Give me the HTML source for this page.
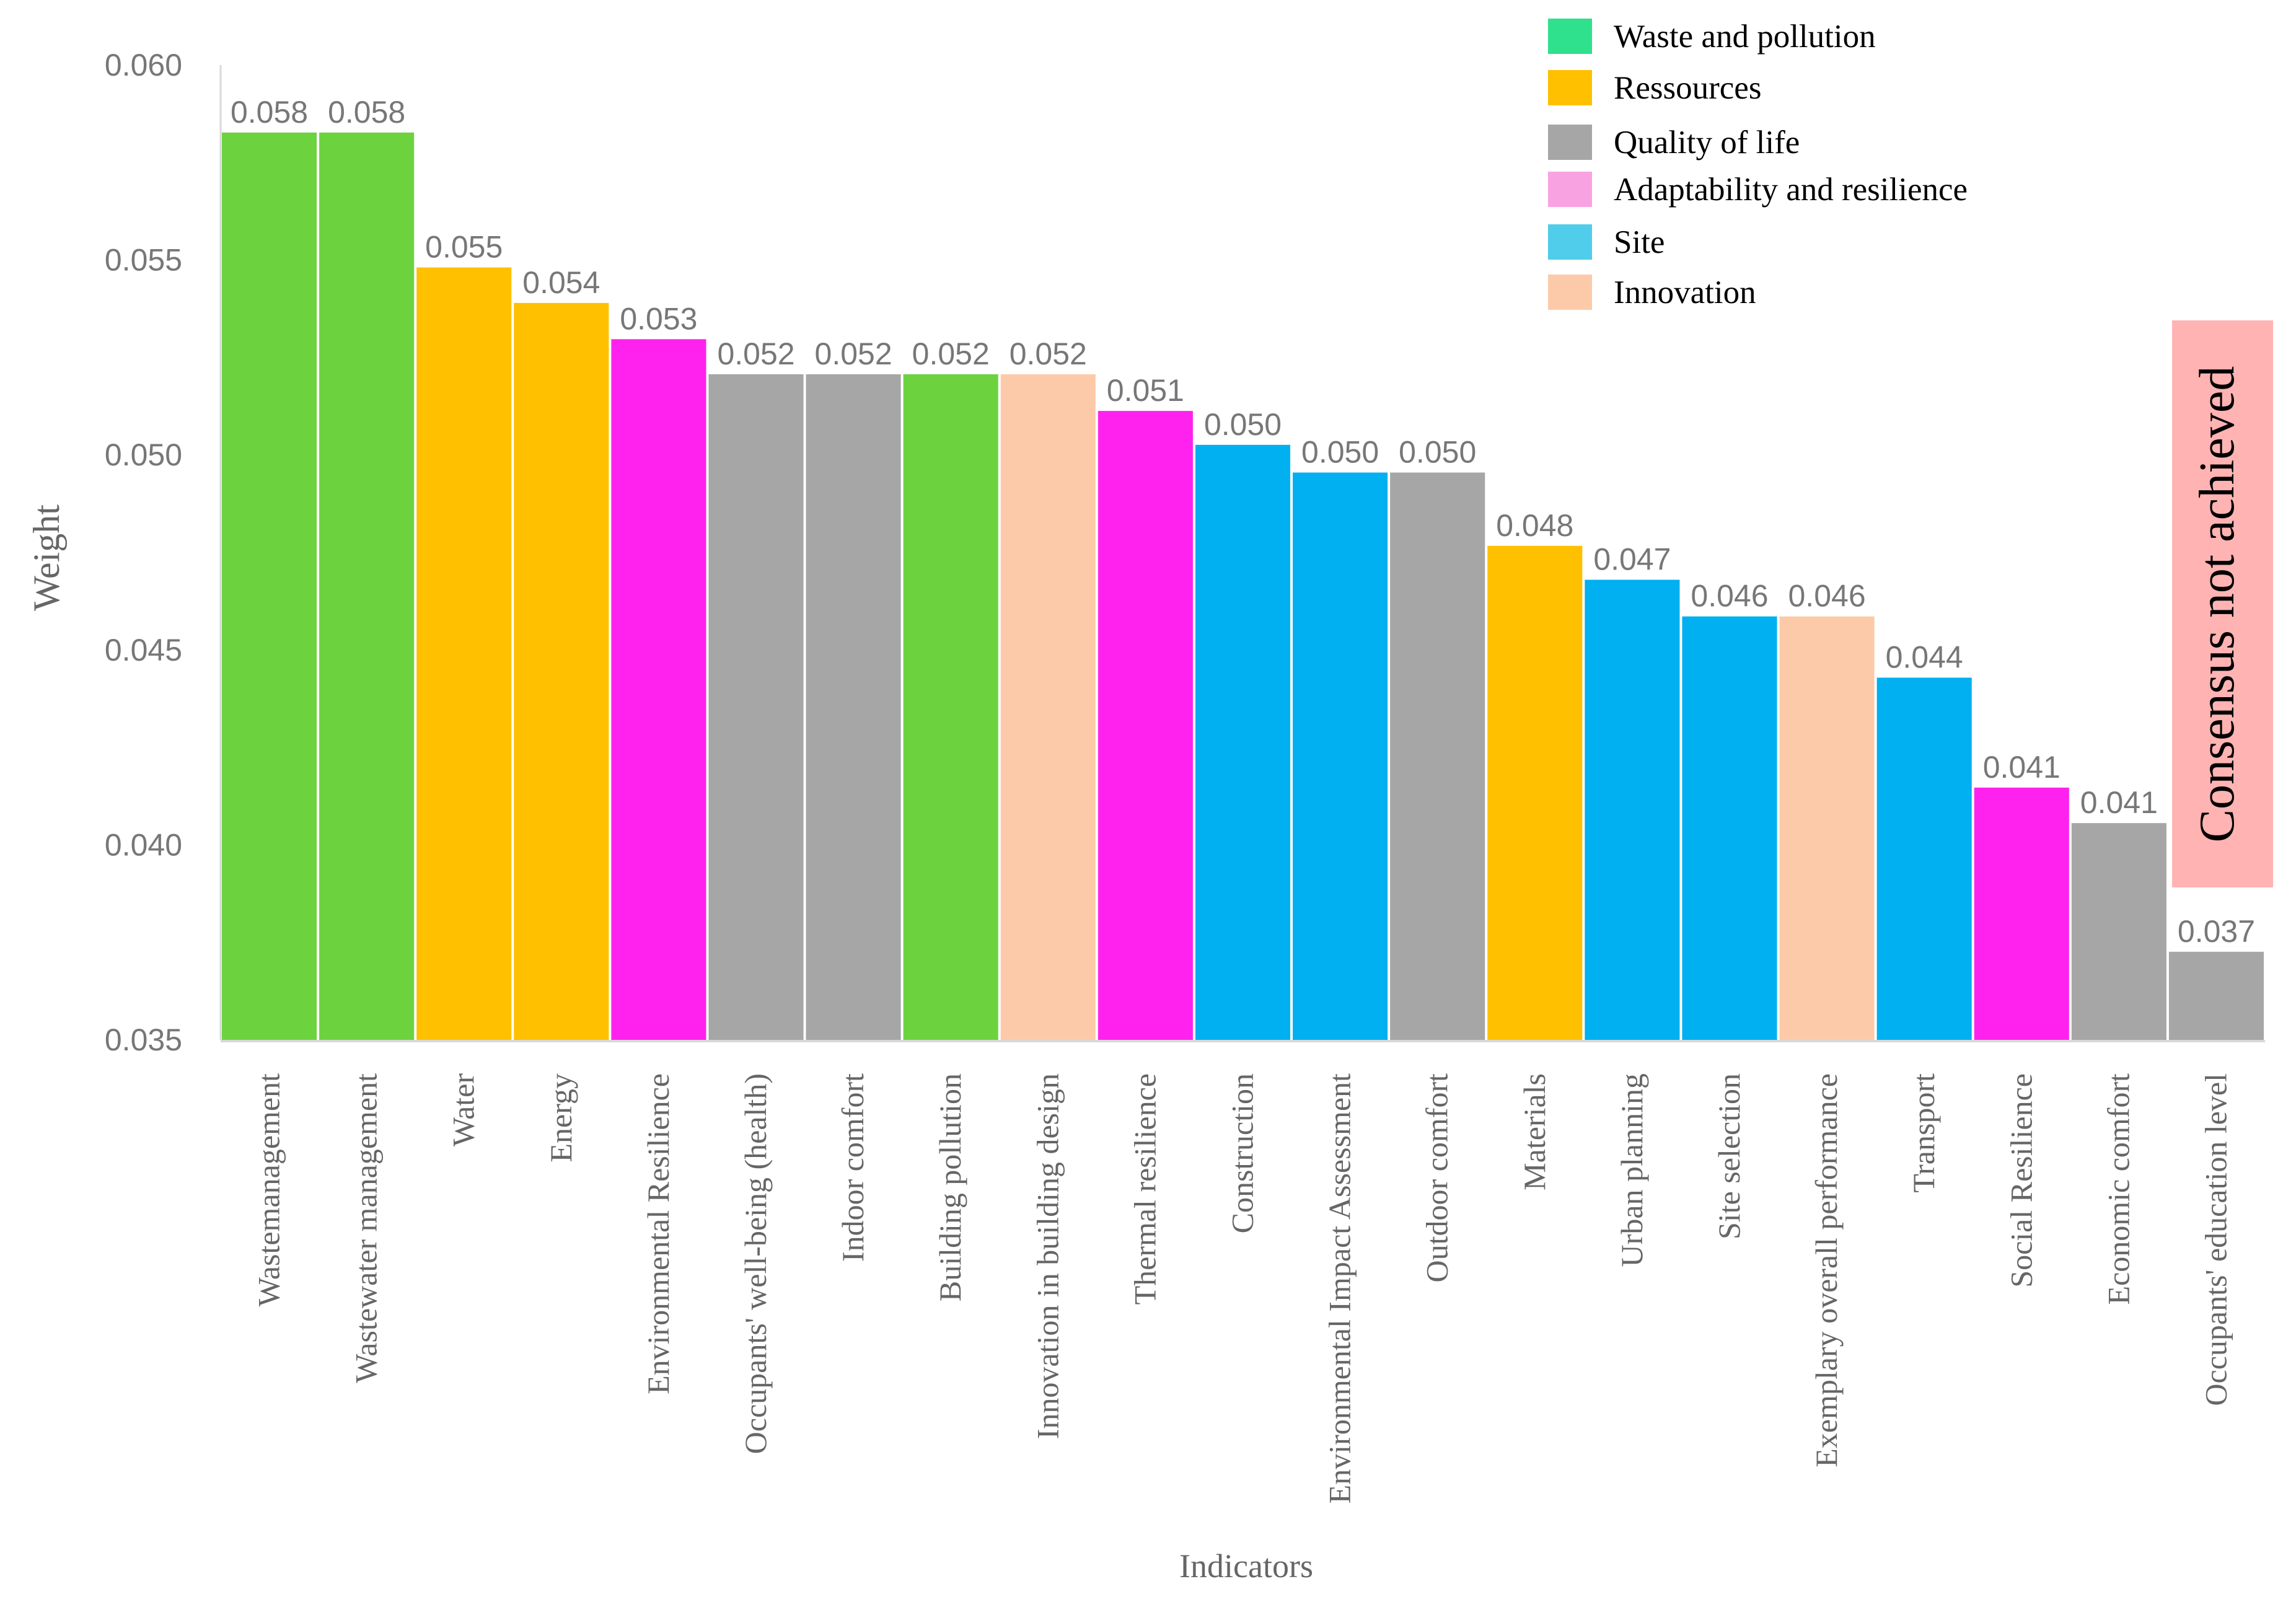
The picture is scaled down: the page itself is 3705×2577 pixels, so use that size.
<!DOCTYPE html>
<html><head><meta charset="utf-8"><style>
html,body{margin:0;padding:0;background:#fff;}
svg{display:block;}
</style></head><body>
<svg id="chart" width="3705" height="2577" viewBox="0 0 3705 2577" xmlns="http://www.w3.org/2000/svg">
<g id="legend"></g>
<rect x="3505" y="517" width="163" height="915" fill="#ffb3b3"/>
<text transform="translate(3604,975) rotate(-90)" text-anchor="middle" font-family="Liberation Serif, serif" font-size="80" fill="#000">Consensus not achieved</text>
<g id="bars"></g>
<g id="yaxis"></g>
<g id="xaxis"></g>
<text transform="translate(95,900) rotate(-90)" text-anchor="middle" font-family="Liberation Serif, serif" font-size="60" fill="#666">Weight</text>
<text x="2011" y="2545" text-anchor="middle" font-family="Liberation Serif, serif" font-size="54" fill="#666">Indicators</text>
</svg>
<script>
const categories = ["Wastemanagement","Wastewater management","Water","Energy","Environmental Resilience","Occupants' well-being (health)","Indoor comfort","Building pollution","Innovation in building design","Thermal resilience","Construction","Environmental Impact Assessment","Outdoor comfort","Materials","Urban planning","Site selection","Exemplary overall performance","Transport","Social Resilience","Economic comfort","Occupants' education level"];
const values = [0.05827,0.05827,0.05481,0.0539,0.05297,0.05207,0.05207,0.05207,0.05207,0.05113,0.05026,0.04955,0.04955,0.04767,0.0468,0.04586,0.04586,0.04429,0.04147,0.04056,0.03726];
const valueLabels = ["0.058","0.058","0.055","0.054","0.053","0.052","0.052","0.052","0.052","0.051","0.050","0.050","0.050","0.048","0.047","0.046","0.046","0.044","0.041","0.041","0.037"];
const groups = ["waste","waste","res","res","adapt","qol","qol","waste","innov","adapt","site","site","qol","res","site","site","innov","site","adapt","qol","qol"];
const yTicks = [0.035,0.040,0.045,0.050,0.055,0.060];
const yTickLabels = ["0.035","0.040","0.045","0.050","0.055","0.060"];
const legendNames = ["Waste and pollution","Ressources","Quality  of life","Adaptability  and resilience"," Site"," Innovation"];
const legendKeys = ["waste","res","qol","adapt","site","innov"];

const barColor = {waste:"#6cd33f",res:"#ffc000",qol:"#a6a6a6",adapt:"#ff22ee",site:"#00b0f0",innov:"#fdcaa9"};
const legColor = {waste:"#2fe08c",res:"#ffc000",qol:"#a6a6a6",adapt:"#f9a2e2",site:"#4fcdea",innov:"#fdcaa9"};
const NS="http://www.w3.org/2000/svg";
const X0=356, X1=3655, Y0=1678, Y1=105, VMIN=0.035, VMAX=0.060;
const y = v => Y0 - (v-VMIN)/(VMAX-VMIN)*(Y0-Y1);
const bw = (X1-X0)/categories.length;
const x = i => X0 + i*bw;
function mk(tag, attrs, parent){const e=document.createElementNS(NS,tag);for(const k in attrs)e.setAttribute(k,attrs[k]);parent.appendChild(e);return e;}

const gb=document.getElementById('bars');
categories.forEach((c,i)=>{
  const r=mk('rect',{x:x(i)+2,y:y(values[i]),width:bw-4,height:Y0-y(values[i]),fill:barColor[groups[i]]},gb);
  
  
  const t=mk('text',{x:x(i)+bw/2,y:y(values[i])-16,'text-anchor':'middle','font-family':'Liberation Sans, sans-serif','font-size':'50',fill:'#777'},gb);
  t.textContent=valueLabels[i];
  
  
});

const gy=document.getElementById('yaxis');
const al=mk('line',{x1:X0,y1:Y1,x2:X0,y2:Y0,stroke:'#d9d9d9','stroke-width':3},gy);


const bl=mk('line',{x1:X0,y1:Y0+2,x2:X1,y2:Y0+2,stroke:'#d9d9d9','stroke-width':4},gy);


yTicks.forEach((v,i)=>{
  const t=mk('text',{x:294,y:y(v)+17,'text-anchor':'end','font-family':'Liberation Sans, sans-serif','font-size':'50',fill:'#777'},gy);
  t.textContent=yTickLabels[i];
  
  
});

const gx=document.getElementById('xaxis');
categories.forEach((c,i)=>{
  const cx=x(i)+bw/2+16;
  const t=mk('text',{transform:`translate(${cx},1732) rotate(-90)`,'text-anchor':'end','font-family':'Liberation Serif, serif','font-size':'50',fill:'#666'},gx);
  t.textContent=c;
  
  
});

const gl=document.getElementById('legend');
const legY=[59,142,230,306,391,472];
legendKeys.forEach((k,i)=>{
  const r=mk('rect',{x:2498,y:legY[i]-29,width:71,height:57,fill:legColor[k]},gl);
  
  
  const t=mk('text',{x:2604,y:legY[i]+17,'font-family':'Liberation Serif, serif','font-size':'53',fill:'#000','xml:space':'preserve'},gl);
  t.textContent=legendNames[i];
  
  
});
</script>
</body></html>
